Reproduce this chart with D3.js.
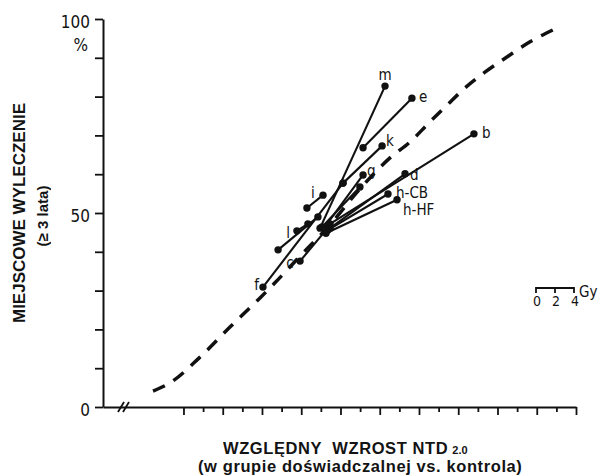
<!DOCTYPE html>
<html>
<head>
<meta charset="utf-8">
<script src="https://cdn.jsdelivr.net/npm/d3@7"></script>
<style>
  body { margin: 0; background: #fff; }
  svg { display: block; }
  text { opacity: 0.99; }
  .lbl { font-family: 'DejaVu Sans Condensed', 'DejaVu Sans', sans-serif; font-size: 15px; fill: #111; }
  .tick-lbl { font-family: 'DejaVu Sans Condensed', 'DejaVu Sans', sans-serif; font-size: 17px; fill: #111; }
  .title { font-family: 'Liberation Sans', Arial, sans-serif; font-weight: bold; fill: #111; white-space: pre; }
</style>
</head>
<body>
<svg id="chart" width="601" height="476"></svg>
<script>
// dashed fitted curve: relative NTD 2.0 increase vs local control (%)
const curveX = [0.845, 0.931, 1.079, 1.237, 1.390, 1.466, 1.594, 1.747, 1.899, 2.052, 2.154, 2.256, 2.343, 2.434, 2.536, 2.648, 2.755, 2.883];
const curveY = [4.1, 6.2, 12.6, 20.6, 28.1, 32.0, 38.9, 47.0, 56.2, 64.2, 68.3, 73.5, 77.8, 82.2, 86.3, 90.2, 93.8, 97.2];

// each study: control point -> experimental point
const pairLabels = ['m', 'e', 'k', 'f', 'b', 'd', 'h-CB', 'h-HF', 'g', '', 'i', 'l', 'c', ''];
const ctrlX = [1.696, 1.915, 1.813, 1.405, 1.747, 1.747, 1.736, 1.726, 1.716, 1.706, 1.629, 1.482, 1.594, 1.578];
const ctrlY = [46.1, 66.8, 57.7, 30.9, 47.2, 46.1, 45.6, 44.8, 46.1, 46.4, 51.3, 40.5, 37.6, 45.4];
const expX = [2.027, 2.164, 2.012, 1.813, 2.480, 2.129, 2.042, 2.088, 1.915, 1.899, 1.711, 1.685, 1.726, 1.634];
const expY = [82.7, 79.6, 67.3, 57.7, 70.4, 60.1, 54.9, 53.4, 59.8, 56.7, 54.6, 49.0, 45.6, 47.2];

const yTicks = d3.range(0, 101, 10);
const yTickShown = [0, 50, 100];
const xTicks = d3.range(10, 31).map(d => d / 10);
const gyTicks = [0, 2, 4];

const labelPos = {
  m: { at: 'exp', dx: 0, dy: -6, anchor: 'middle' },
  e: { at: 'exp', dx: 7, dy: 4, anchor: 'start' },
  k: { at: 'exp', dx: 4, dy: 0, anchor: 'start' },
  b: { at: 'exp', dx: 8, dy: 4, anchor: 'start' },
  d: { at: 'exp', dx: 5, dy: 6, anchor: 'start' },
  'h-CB': { at: 'exp', dx: 8, dy: 4, anchor: 'start' },
  'h-HF': { at: 'exp', dx: 6, dy: 15, anchor: 'start' },
  g: { at: 'exp', dx: 4, dy: 1, anchor: 'start' },
  i: { at: 'ctrl', dx: 6, dy: -10, anchor: 'middle' },
  l: { at: 'ctrl', dx: 10, dy: -12, anchor: 'middle' },
  c: { at: 'ctrl', dx: -10, dy: 7, anchor: 'middle' },
  f: { at: 'ctrl', dx: -4, dy: 3, anchor: 'end' }
};

const margin = { top: 19, left: 103 };
const width = 473;
const height = 388;

const svg = d3.select('#chart');
const g = svg.append('g').attr('transform', `translate(${margin.left},${margin.top})`);

const x = d3.scaleLinear().domain([0.59, 3.0]).range([0, width]);
const y = d3.scaleLinear().domain([0, 100]).range([height, 0]);

// axes
const axisY = d3.axisLeft(y)
  .tickValues(yTicks)
  .tickSize(8)
  .tickSizeOuter(0)
  .tickPadding(5)
  .tickFormat(d => (yTickShown.includes(d) ? d : ''));

const gy = g.append('g').attr('class', 'axis axis-y').call(axisY);
gy.select('.domain').attr('stroke', '#111').attr('stroke-width', 2);
gy.selectAll('.tick line').attr('stroke', '#111').attr('stroke-width', 1.8);
gy.selectAll('.tick text').attr('class', 'tick-lbl').attr('dy', '0.5em');

g.append('text')
  .attr('class', 'tick-lbl')
  .attr('x', -15)
  .attr('y', y(100) + 32)
  .attr('text-anchor', 'end')
  .text('%');

const axisX = d3.axisBottom(x)
  .tickValues(xTicks)
  .tickSize(8)
  .tickSizeOuter(0)
  .tickFormat('');

const gx = g.append('g').attr('class', 'axis axis-x')
  .attr('transform', `translate(0,${height})`)
  .call(axisX);
gx.select('.domain').attr('stroke', '#111').attr('stroke-width', 2);
gx.selectAll('.tick line')
  .attr('stroke', '#111')
  .attr('stroke-width', 1.8)
  .attr('y2', (d, i) => (i % 2 === 0 ? 8 : 5));

// axis break
[18, 23].forEach(off => {
  gx.append('line')
    .attr('x1', off - 3).attr('y1', 5)
    .attr('x2', off + 3).attr('y2', -5)
    .attr('stroke', '#111').attr('stroke-width', 1.8);
});

// fitted curve
const curveData = curveX.map((d, i) => ({ x: d, y: curveY[i] }));
const line = d3.line()
  .x(d => x(d.x))
  .y(d => y(d.y))
  .curve(d3.curveMonotoneX);

g.append('path')
  .datum(curveData)
  .attr('d', line)
  .attr('fill', 'none')
  .attr('stroke', '#111')
  .attr('stroke-width', 3.5)
  .attr('stroke-dasharray', '13,10');

// study pairs
const pairs = pairLabels.map((label, i) => ({
  label,
  cx: ctrlX[i], cy: ctrlY[i],
  ex: expX[i], ey: expY[i]
}));

const pg = g.append('g').attr('class', 'pairs');

pg.selectAll('line.pair')
  .data(pairs)
  .join('line')
  .attr('class', 'pair')
  .attr('x1', d => x(d.cx))
  .attr('y1', d => y(d.cy))
  .attr('x2', d => x(d.ex))
  .attr('y2', d => y(d.ey))
  .attr('stroke', '#111')
  .attr('stroke-width', 2.1);

const dots = pairs.flatMap(d => [{ x: d.cx, y: d.cy }, { x: d.ex, y: d.ey }]);
pg.selectAll('circle')
  .data(dots)
  .join('circle')
  .attr('cx', d => x(d.x))
  .attr('cy', d => y(d.y))
  .attr('r', 3.7)
  .attr('fill', '#111');

pg.selectAll('text')
  .data(pairs.filter(d => d.label))
  .join('text')
  .attr('class', 'lbl')
  .attr('x', d => {
    const p = labelPos[d.label];
    return x(p.at === 'exp' ? d.ex : d.cx) + p.dx;
  })
  .attr('y', d => {
    const p = labelPos[d.label];
    return y(p.at === 'exp' ? d.ey : d.cy) + p.dy;
  })
  .attr('text-anchor', d => labelPos[d.label].anchor)
  .text(d => d.label);

// Gy scale bar
const gyScale = d3.scaleLinear().domain([0, 4]).range([433, 471]);
const bar = g.append('g').attr('transform', 'translate(0,269)');
bar.append('path')
  .attr('d', `M${gyScale(0)},5V0H${gyScale(4)}V5`)
  .attr('fill', 'none').attr('stroke', '#111').attr('stroke-width', 1.8);
bar.append('line')
  .attr('x1', gyScale(2)).attr('x2', gyScale(2))
  .attr('y1', 0).attr('y2', 5)
  .attr('stroke', '#111').attr('stroke-width', 1.8);
bar.selectAll('text.gy')
  .data(gyTicks)
  .join('text')
  .attr('class', 'lbl gy')
  .attr('x', d => gyScale(d) + 1)
  .attr('y', 18)
  .attr('text-anchor', 'middle')
  .style('font-size', '14px')
  .text(d => d);
bar.append('text')
  .attr('class', 'lbl')
  .attr('x', gyScale(4) + 5)
  .attr('y', 9)
  .style('font-size', '15px')
  .text('Gy');

// titles
svg.append('text')
  .attr('class', 'title')
  .attr('transform', 'translate(25,213) rotate(-90)')
  .attr('text-anchor', 'middle')
  .style('font-size', '17px')
  .text('MIEJSCOWE WYLECZENIE');

svg.append('text')
  .attr('class', 'title')
  .attr('transform', 'translate(48,216) rotate(-90)')
  .attr('text-anchor', 'middle')
  .style('font-size', '15px')
  .text('(≥ 3 lata)');

const xt = svg.append('text')
  .attr('class', 'title')
  .attr('x', 223)
  .attr('y', 454)
  .style('font-size', '16.5px')
  .style('letter-spacing', '0.6px');
xt.append('tspan').text('WZGLĘDNY  WZROST NTD');
xt.append('tspan').attr('dx', 4).style('font-size', '11px').style('letter-spacing', '0px').text('2.0');

svg.append('text')
  .attr('class', 'title')
  .attr('x', 198)
  .attr('y', 472)
  .style('font-size', '16.5px')
  .style('letter-spacing', '0.6px')
  .text('(w grupie doświadczalnej vs. kontrola)');
</script>
</body>
</html>
